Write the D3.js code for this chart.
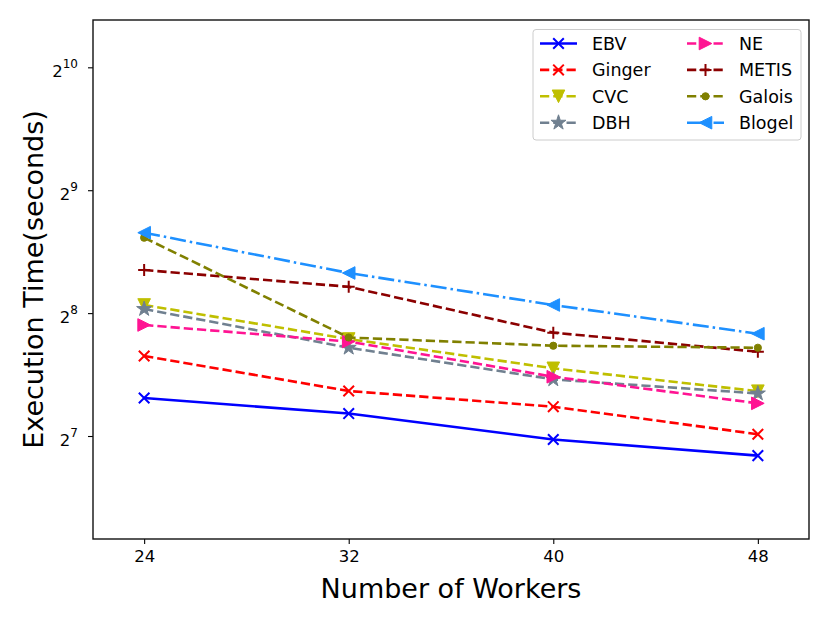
<!DOCTYPE html>
<html>
<head>
<meta charset="utf-8">
<script src="https://cdn.jsdelivr.net/npm/d3@7"></script>
<style>
  html, body { margin: 0; padding: 0; background: #fff; }
  svg { display: block; }
  text { font-family: "DejaVu Sans", sans-serif; }
</style>
</head>
<body>
<svg id="chart" width="830" height="623"></svg>
<script>
// ---------------- data ----------------
const workers = [24, 32, 40, 48];
const seriesNames = ["EBV", "Ginger", "CVC", "DBH", "NE", "METIS", "Galois", "Blogel"];
const EBV    = [158.6, 145.3, 125.5, 114.6];
const Ginger = [201.0, 165.0, 151.0, 129.3];
const CVC    = [268.0, 221.2, 187.5, 164.8];
const DBH    = [262.0, 210.6, 176.2, 162.7];
const NE     = [239.4, 218.1, 178.8, 153.9];
const METIS  = [326.4, 297.0, 229.3, 205.9];
const Galois = [391.7, 223.1, 213.0, 210.6];
const Blogel = [402.9, 321.0, 268.0, 227.9];
const xTicks = [24, 32, 40, 48];
const yTickExponents = [7, 8, 9, 10];
const xLabel = "Number of Workers";
const yLabel = "Execution Time(seconds)";

// ---------------- styles ----------------
const seriesValues = { EBV, Ginger, CVC, DBH, NE, METIS, Galois, Blogel };
const styles = {
  EBV:    { color: "#0000ff", dash: null,          marker: "x" },
  Ginger: { color: "#ff0000", dash: "9.25,4",      marker: "x" },
  CVC:    { color: "#bfbf00", dash: "9.25,4",      marker: "tdown" },
  DBH:    { color: "#708090", dash: "9.25,4",      marker: "star" },
  NE:     { color: "#ff1493", dash: "9.25,4",      marker: "tright" },
  METIS:  { color: "#8b0000", dash: "9.25,4",      marker: "plus" },
  Galois: { color: "#808000", dash: "9.25,4",      marker: "dot" },
  Blogel: { color: "#1e90ff", dash: "16,4,2.5,4",  marker: "tleft" }
};

const svg = d3.select("#chart");
const L = 93, R = 809, T = 20, B = 539;

const x = d3.scaleLinear().domain([22, 50]).range([L, R]);
const y = d3.scaleLog().base(2).domain([Math.pow(2, 6.162), Math.pow(2, 10.385)]).range([B, T]);

// ---------------- markers ----------------
function drawMarker(g, type, cx, cy, color) {
  const s = 6.3;
  if (type === "x") {
    const h = 5.3;
    g.append("path").attr("d", `M${cx-h},${cy-h}L${cx+h},${cy+h}M${cx-h},${cy+h}L${cx+h},${cy-h}`)
      .attr("stroke", color).attr("stroke-width", 2).attr("fill", "none");
  } else if (type === "plus") {
    const h = 6;
    g.append("path").attr("d", `M${cx-h},${cy}L${cx+h},${cy}M${cx},${cy-h}L${cx},${cy+h}`)
      .attr("stroke", color).attr("stroke-width", 2).attr("fill", "none");
  } else if (type === "tdown") {
    g.append("path").attr("d", `M${cx-s},${cy-s}L${cx+s},${cy-s}L${cx},${cy+s}Z`)
      .attr("fill", color).attr("stroke", color).attr("stroke-width", 1);
  } else if (type === "tright") {
    g.append("path").attr("d", `M${cx-s},${cy-s}L${cx+s},${cy}L${cx-s},${cy+s}Z`)
      .attr("fill", color).attr("stroke", color).attr("stroke-width", 1);
  } else if (type === "tleft") {
    g.append("path").attr("d", `M${cx+s},${cy-s}L${cx-s},${cy}L${cx+s},${cy+s}Z`)
      .attr("fill", color).attr("stroke", color).attr("stroke-width", 1);
  } else if (type === "star") {
    const sym = d3.symbol().type(d3.symbolStar).size(70);
    g.append("path").attr("d", sym()).attr("transform", `translate(${cx},${cy})`)
      .attr("fill", color).attr("stroke", color).attr("stroke-width", 1);
  } else if (type === "dot") {
    g.append("circle").attr("cx", cx).attr("cy", cy).attr("r", 3.6)
      .attr("fill", color).attr("stroke", color).attr("stroke-width", 1);
  }
}

// ---------------- axes ----------------
const xAxis = d3.axisBottom(x).tickValues(xTicks).tickSize(5).tickPadding(6).tickFormat(d3.format("d"));
const gx = svg.append("g").attr("transform", `translate(0,${B})`).call(xAxis);
gx.select(".domain").remove();
gx.selectAll(".tick line").attr("stroke", "#000").attr("stroke-width", 1.1);
gx.selectAll(".tick text").attr("font-size", 16.5).attr("fill", "#000");

const yAxis = d3.axisLeft(y).tickValues(yTickExponents.map(e => Math.pow(2, e))).tickSize(5).tickPadding(10).tickFormat(() => "");
const gy = svg.append("g").attr("transform", `translate(${L},0)`).call(yAxis);
gy.select(".domain").remove();
gy.selectAll(".tick line").attr("stroke", "#000").attr("stroke-width", 1.1);
gy.selectAll(".tick text").each(function(d) {
  const t = d3.select(this);
  t.text(null).attr("font-size", 16.5).attr("fill", "#000").attr("dy", "0.55em");
  t.append("tspan").text("2");
  t.append("tspan").attr("font-size", 12).attr("dy", "-0.75em").text(Math.round(Math.log2(d)));
});

// ---------------- lines ----------------
const plot = svg.append("g");
const line = d3.line().x((d, i) => x(workers[i])).y(d => y(d));
seriesNames.forEach(name => {
  const st = styles[name];
  const vals = seriesValues[name];
  const g = plot.append("g");
  g.append("path").datum(vals).attr("d", line)
    .attr("fill", "none").attr("stroke", st.color).attr("stroke-width", 2.6)
    .attr("stroke-dasharray", st.dash).attr("stroke-linecap", "butt").attr("stroke-linejoin", "round");
  vals.forEach((v, i) => drawMarker(g, st.marker, x(workers[i]), y(v), st.color));
});

// ---------------- frame ----------------
svg.append("rect").attr("x", L).attr("y", T).attr("width", R - L).attr("height", B - T)
  .attr("fill", "none").attr("stroke", "#111").attr("stroke-width", 1.4);

// ---------------- labels ----------------
svg.append("text").attr("x", (L + R) / 2).attr("y", 598).attr("text-anchor", "middle")
  .attr("font-size", 27).attr("fill", "#000").text(xLabel);
svg.append("text").attr("transform", `translate(43,${(T + B) / 2}) rotate(-90)`).attr("text-anchor", "middle")
  .attr("font-size", 27).attr("fill", "#000").text(yLabel);

// ---------------- legend ----------------
const lg = svg.append("g");
lg.append("rect").attr("x", 533).attr("y", 29.5).attr("width", 268).attr("height", 110.5)
  .attr("rx", 3).attr("fill", "#fff").attr("fill-opacity", 0.8).attr("stroke", "#cccccc").attr("stroke-width", 1);
seriesNames.forEach((name, i) => {
  const col = Math.floor(i / 4), row = i % 4;
  const x0 = col === 0 ? 540 : 687;
  const yy = 43.5 + row * 26.4;
  const st = styles[name];
  lg.append("path").attr("d", `M${x0},${yy}L${x0 + 37},${yy}`)
    .attr("stroke", st.color).attr("stroke-width", 2.6).attr("stroke-dasharray", st.dash).attr("fill", "none");
  drawMarker(lg, st.marker, x0 + 18.5, yy, st.color);
  lg.append("text").attr("x", x0 + 52).attr("y", yy).attr("dy", "0.36em")
    .attr("font-size", 17.5).attr("fill", "#000").text(name);
});
</script>
</body>
</html>
